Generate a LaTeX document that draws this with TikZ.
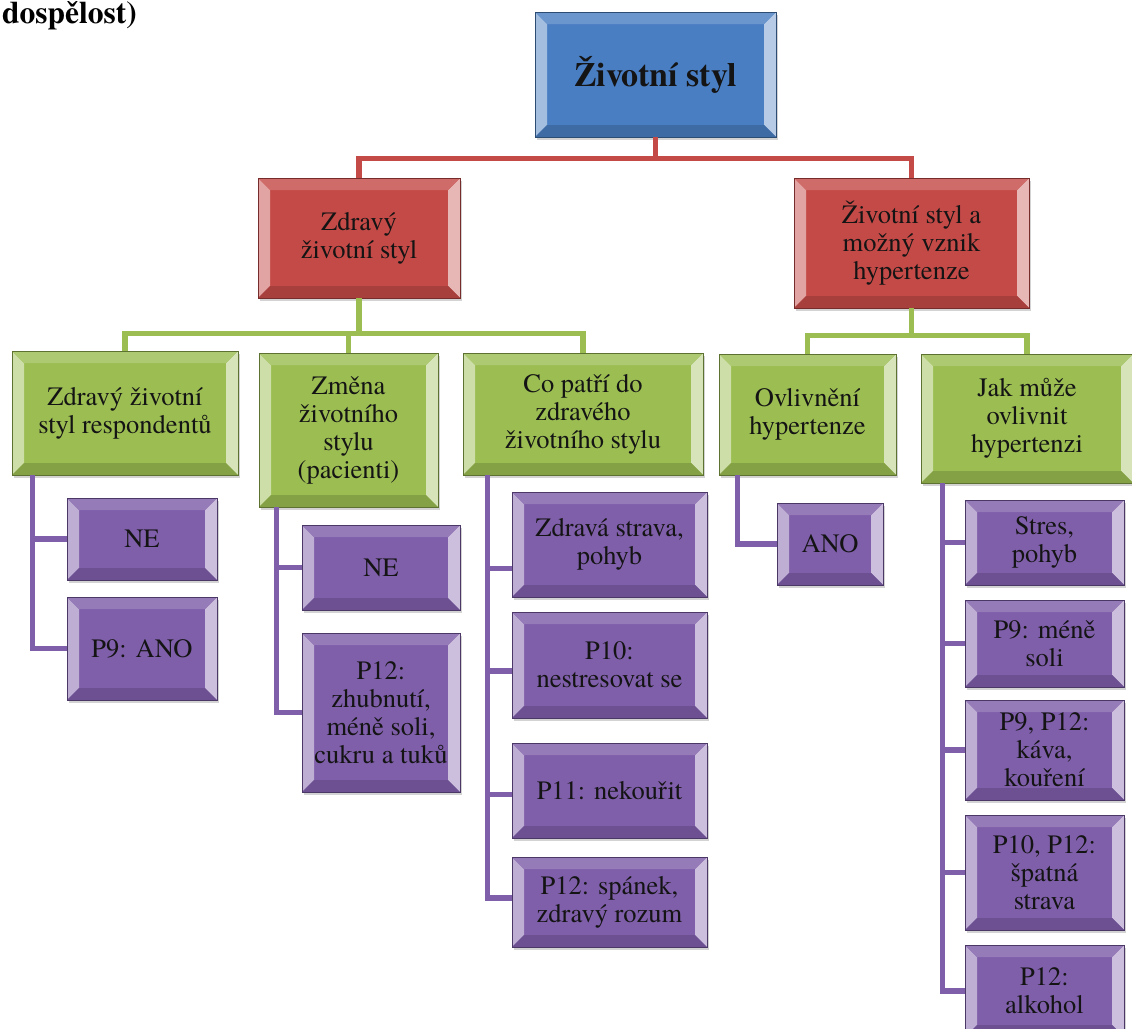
\documentclass[tikz,border=0pt]{standalone}
\usepackage{fontspec}
\setmainfont{texgyretermes}[
  Extension=.otf,
  UprightFont=*-regular,
  BoldFont=*-bold,
  ItalicFont=*-italic,
  BoldItalicFont=*-bolditalic]
\usetikzlibrary{shadows,calc}

\definecolor{cblue}{HTML}{4A7EC2}
\definecolor{cred}{HTML}{C44A47}
\definecolor{cgreen}{HTML}{9BBD52}
\definecolor{cpurple}{HTML}{7F5EAA}
\definecolor{ctext}{HTML}{141414}

\newcommand\bevw{12pt}
\newcommand\boxfont{\fontsize{26.5}{28}\selectfont}

\tikzset{
  bx/.style={
    draw=#1!60!black, line width=0.7pt, fill=#1, inner sep=2pt,
    align=center, font=\boxfont, text=ctext,
    drop shadow={opacity=0.35, shadow xshift=2pt, shadow yshift=-3pt},
    path picture={
      % left bevel
      \fill[#1!50!white]
        (path picture bounding box.north west) -- (path picture bounding box.south west)
        -- ([shift={(\bevw,\bevw)}]path picture bounding box.south west)
        -- ([shift={(\bevw,-\bevw)}]path picture bounding box.north west) -- cycle;
      % right bevel
      \fill[#1!40!white]
        (path picture bounding box.north east) -- (path picture bounding box.south east)
        -- ([shift={(-\bevw,\bevw)}]path picture bounding box.south east)
        -- ([shift={(-\bevw,-\bevw)}]path picture bounding box.north east) -- cycle;
      % top bevel
      \fill[#1!82!white]
        (path picture bounding box.north west) -- (path picture bounding box.north east)
        -- ([shift={(-\bevw,-\bevw)}]path picture bounding box.north east)
        -- ([shift={(\bevw,-\bevw)}]path picture bounding box.north west) -- cycle;
      % bottom bevel
      \fill[#1!85!black]
        (path picture bounding box.south west) -- (path picture bounding box.south east)
        -- ([shift={(-\bevw,\bevw)}]path picture bounding box.south east)
        -- ([shift={(\bevw,\bevw)}]path picture bounding box.south west) -- cycle;
    }
  },
  conn/.style={draw=#1, line width=5.5pt, line join=miter},
}

\begin{document}
\begin{tikzpicture}[x=1pt,y=-1pt]
\useasboundingbox (0,0) rectangle (1132,1028);
\clip (0,0) rectangle (1132,1028);

\node[anchor=base west, font=\bfseries\fontsize{31.5}{34}\selectfont, inner sep=0pt] (hdr) at (2,23) {dospělost)};

% top level
\node[bx=cblue, minimum width=241pt, minimum height=125pt,
      font=\bfseries\fontsize{34}{38}\selectfont] (top) at (655.5,74.5) {Životní styl};

% second level
\node[bx=cred, minimum width=202pt, minimum height=120pt] (redL) at (359,238) {Zdravý\\životní styl};
\node[bx=cred, minimum width=235pt, minimum height=130pt] (redR) at (911.5,243) {Životní styl a\\možný vznik\\hypertenze};

% third level
\node[bx=cgreen, minimum width=226pt, minimum height=124pt] (g1) at (125,413) {Zdravý životní\\styl respondentů};
\node[bx=cgreen, minimum width=179pt, minimum height=154pt] (g2) at (348.5,430) {Změna\\životního\\stylu\\(pacienti)};
\node[bx=cgreen, minimum width=240pt, minimum height=122pt] (g3) at (583,414) {Co patří do\\zdravého\\životního stylu};
\node[bx=cgreen, minimum width=177pt, minimum height=121pt] (g4) at (807.5,414.5) {Ovlivnění\\hypertenze};
\node[bx=cgreen, minimum width=212pt, minimum height=129pt] (g5) at (1027,418.5) {Jak může\\ovlivnit\\hypertenzi};

% fourth level
\node[bx=cpurple, minimum width=150pt, minimum height=82pt] (p1a) at (142,539) {NE};
\node[bx=cpurple, minimum width=150pt, minimum height=103pt] (p1b) at (142,648.5) {P9: ANO};

\node[bx=cpurple, minimum width=158pt, minimum height=85pt] (p2a) at (381,567.5) {NE};
\node[bx=cpurple, minimum width=158pt, minimum height=159pt] (p2b) at (381,712.5) {P12:\\zhubnutí,\\méně soli,\\cukru a tuků};

\node[bx=cpurple, minimum width=195pt, minimum height=105pt] (p3a) at (609.5,544.5) {Zdravá strava,\\pohyb};
\node[bx=cpurple, minimum width=195pt, minimum height=106pt] (p3b) at (609.5,665) {P10:\\nestresovat se};
\node[bx=cpurple, minimum width=195pt, minimum height=95pt] (p3c) at (609.5,790.5) {P11: nekouřit};
\node[bx=cpurple, minimum width=195pt, minimum height=90pt] (p3d) at (609.5,902) {P12: spánek,\\zdravý rozum};

\node[bx=cpurple, minimum width=106pt, minimum height=82pt] (p4) at (830,544) {ANO};

\node[bx=cpurple, minimum width=159pt, minimum height=85pt] (p5a) at (1044.5,542.5) {Stres,\\pohyb};
\node[bx=cpurple, minimum width=159pt, minimum height=87pt] (p5b) at (1044.5,643.5) {P9: méně\\soli};
\node[bx=cpurple, minimum width=159pt, minimum height=100pt] (p5c) at (1044.5,750) {P9, P12:\\káva,\\kouření};
\node[bx=cpurple, minimum width=159pt, minimum height=115pt] (p5d) at (1044.5,872.5) {P10, P12:\\špatná\\strava};
\node[bx=cpurple, minimum width=159pt, minimum height=92pt] (p5e) at (1044.5,991) {P12:\\alkohol};

% connectors: top -> second level
\draw[conn=cred] (top.south) -- ++(0,21) -| (redL.north);
\draw[conn=cred] (top.south) -- ++(0,21) -| (redR.north);

% second -> third level
\draw[conn=cgreen] (redL.south) -- ++(0,35) -| (g1.north);
\draw[conn=cgreen] (redL.south) -- ++(0,35) -| (g2.north);
\draw[conn=cgreen] (redL.south) -- ++(0,35) -| (g3.north);
\draw[conn=cgreen] (redR.south) -- ++(0,27) -| (g4.north);
\draw[conn=cgreen] (redR.south) -- ++(0,27) -| (g5.north);

% third -> fourth level
\draw[conn=cpurple] ([xshift=21pt]g1.south west) |- (p1a.west);
\draw[conn=cpurple] ([xshift=21pt]g1.south west) |- (p1b.west);

\draw[conn=cpurple] ([xshift=18pt]g2.south west) |- (p2a.west);
\draw[conn=cpurple] ([xshift=18pt]g2.south west) |- (p2b.west);

\draw[conn=cpurple] ([xshift=25pt]g3.south west) |- ([yshift=-24pt]p3a.west);
\draw[conn=cpurple] ([xshift=25pt]g3.south west) |- ([yshift=-6pt]p3b.west);
\draw[conn=cpurple] ([xshift=25pt]g3.south west) |- ([yshift=-4pt]p3c.west);
\draw[conn=cpurple] ([xshift=25pt]g3.south west) |- ([yshift=4pt]p3d.west);

\draw[conn=cpurple] ([xshift=19pt]g4.south west) |- (p4.west);

\draw[conn=cpurple] ([xshift=22pt]g5.south west) |- (p5a.west);
\draw[conn=cpurple] ([xshift=22pt]g5.south west) |- (p5b.west);
\draw[conn=cpurple] ([xshift=22pt]g5.south west) |- (p5c.west);
\draw[conn=cpurple] ([xshift=22pt]g5.south west) |- (p5d.west);
\draw[conn=cpurple] ([xshift=22pt]g5.south west) |- (p5e.west);
\end{tikzpicture}
\end{document}
